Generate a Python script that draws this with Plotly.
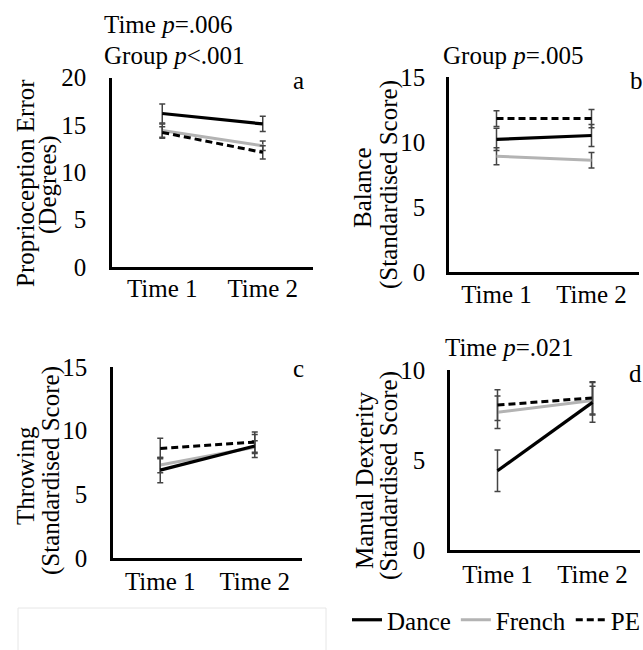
import plotly.graph_objects as go

W, H = 643, 650
FONT = "Liberation Serif, Times New Roman, serif"
FS = 25

time_labels = ["Time 1", "Time 2"]
time_pos = [1, 2]
groups = ["Dance", "French", "PE"]

# Panel a: Proprioception Error (Degrees)
a_dance = [16.2, 15.1]
a_french = [14.4, 12.8]
a_pe = [14.2, 12.1]
a_dance_se = [1.0, 0.8]
a_french_se = [0.7, 0.5]
a_pe_se = [0.6, 0.7]

# Panel b: Balance
b_dance = [10.2, 10.5]
b_french = [8.9, 8.6]
b_pe = [11.8, 11.8]
b_dance_se = [0.85, 0.85]
b_french_se = [0.65, 0.6]
b_pe_se = [0.6, 0.7]

# Panel c: Throwing
c_dance = [6.9, 8.8]
c_french = [7.3, 8.7]
c_pe = [8.6, 9.1]
c_dance_se = [1.0, 0.9]
c_french_se = [0.6, 0.5]
c_pe_se = [0.8, 0.8]

# Panel d: Manual Dexterity
d_dance = [4.4, 8.2]
d_french = [7.65, 8.3]
d_pe = [8.05, 8.45]
d_dance_se = [1.15, 1.1]
d_french_se = [0.9, 0.8]
d_pe_se = [0.85, 0.9]

panels = [
    dict(key="", vals={"Dance": (a_dance, a_dance_se), "French": (a_french, a_french_se), "PE": (a_pe, a_pe_se)},
         xpx=(112, 313), ypx=(77.5, 267), yrange=(0, 20), ytick=[0, 5, 10, 15, 20], xso=-3, yso=18),
    dict(key="2", vals={"Dance": (b_dance, b_dance_se), "French": (b_french, b_french_se), "PE": (b_pe, b_pe_se)},
         xpx=(449, 639), ypx=(77, 272), yrange=(0, 15), ytick=[0, 5, 10, 15], xso=-2, yso=16),
    dict(key="3", vals={"Dance": (c_dance, c_dance_se), "French": (c_french, c_french_se), "PE": (c_pe, c_pe_se)},
         xpx=(113, 302), ypx=(367, 558), yrange=(0, 15), ytick=[0, 5, 10, 15], xso=-1, yso=18),
    dict(key="4", vals={"Dance": (d_dance, d_dance_se), "French": (d_french, d_french_se), "PE": (d_pe, d_pe_se)},
         xpx=(450, 640), ypx=(370, 550), yrange=(0, 10), ytick=[0, 5, 10], xso=0, yso=17),
]

styles = {
    "Dance": dict(color="black", width=3.2, dash="solid"),
    "French": dict(color="#b3b3b3", width=3, dash="solid"),
    "PE": dict(color="black", width=3, dash="7px,4px"),
}
rank = {"Dance": 1, "French": 2, "PE": 3}
draw_order = ["French", "PE", "Dance"]

fig = go.Figure()
layout = {}
for i, p in enumerate(panels):
    k = p["key"]
    for g in draw_order:
        y, se = p["vals"][g]
        fig.add_trace(go.Scatter(
            x=time_pos, y=y, mode="lines", name=g,
            line=styles[g],
            error_y=dict(type="data", array=se, color="#444444", thickness=1.5, width=3),
            xaxis="x" + k, yaxis="y" + k,
            showlegend=(i == 0), legendrank=rank[g],
        ))
    x0, x1 = p["xpx"]
    yt, yb = p["ypx"]
    layout["xaxis" + k] = dict(
        domain=[x0 / W, x1 / W], anchor="y" + k, range=[0.5, 2.5],
        tickvals=time_pos, ticktext=time_labels, showgrid=False, zeroline=False,
        showline=True, linecolor="black", linewidth=2.5, ticks="",
        ticklabelstandoff=p["xso"], automargin=False,
        tickfont=dict(family=FONT, size=FS, color="black"),
    )
    layout["yaxis" + k] = dict(
        domain=[1 - yb / H, 1 - yt / H], anchor="x" + k, range=list(p["yrange"]),
        tickvals=p["ytick"], showgrid=False, zeroline=False,
        showline=True, linecolor="black", linewidth=2.5, ticks="",
        ticklabelstandoff=p["yso"], automargin=False,
        tickfont=dict(family=FONT, size=FS, color="black"),
    )

fig.update_layout(**layout)

def ann(text, xpx, ypx, xanchor="left", angle=0):
    return dict(text=text, x=xpx / W, y=1 - ypx / H, xref="paper", yref="paper",
                xanchor=xanchor, yanchor="middle", showarrow=False, textangle=angle,
                font=dict(family=FONT, size=FS, color="black"))

annotations = [
    ann("Time <i>p</i>=.006", 102, 25),
    ann("Group <i>p</i><.001", 102, 55),
    ann("Group <i>p</i>=.005", 441, 55),
    ann("Time <i>p</i>=.021", 443, 347),
    ann("a", 298, 80, "center"),
    ann("b", 636, 80, "center"),
    ann("c", 298, 368, "center"),
    ann("d", 635, 373, "center"),
    ann("Proprioception Error", 26, 183, "center", -90),
    ann("(Degrees)", 48, 185, "center", -90),
    ann("Balance", 363, 188, "center", -90),
    ann("(Standardised Score)", 389, 185, "center", -90),
    ann("Throwing", 25, 476, "center", -90),
    ann("(Standardised Score)", 51, 471, "center", -90),
    ann("Manual Dexterity", 364, 480, "center", -90),
    ann("(Standardised Score)", 389, 476, "center", -90),
]

fig.update_layout(
    width=W, height=H,
    margin=dict(l=0, r=0, t=0, b=0, autoexpand=False),
    paper_bgcolor="white", plot_bgcolor="white",
    annotations=annotations,
    showlegend=True,
    legend=dict(orientation="h", x=347 / W, y=1 - 620 / H, xanchor="left", yanchor="middle",
                font=dict(family=FONT, size=FS, color="black"),
                bgcolor="rgba(0,0,0,0)", itemwidth=30, tracegroupgap=0, traceorder="normal"),
    shapes=[dict(type="rect", xref="paper", yref="paper",
                 x0=18 / W, x1=326 / W, y0=-0.01, y1=1 - 608 / H,
                 line=dict(color="#e6e6e6", width=1), layer="below")],
)

fig.write_html("out.html", config={"displayModeBar": False},
               post_script="document.body.style.margin='0';")
